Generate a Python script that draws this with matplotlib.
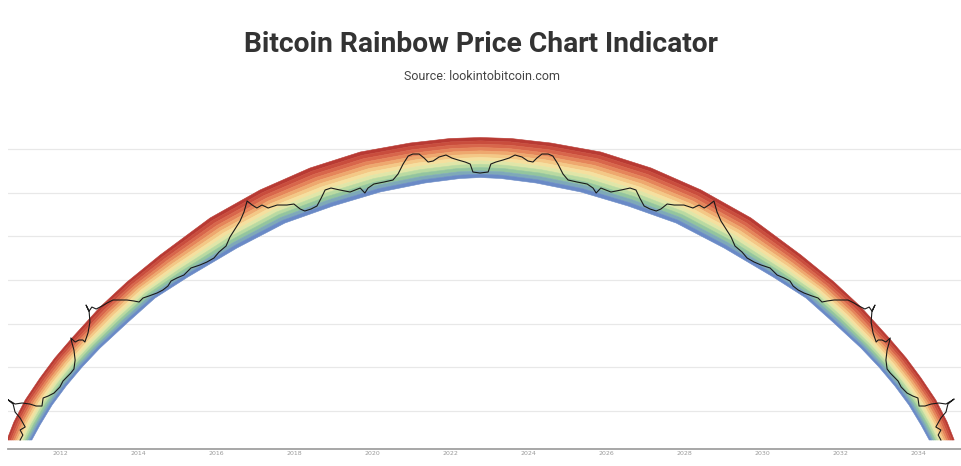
import matplotlib
matplotlib.use("Agg")
import matplotlib.pyplot as plt
import numpy as np

# ---- data (x = year, y = log-price units; gridlines at integers) ----
tick_years = [2012, 2014, 2016, 2018, 2020, 2022, 2024, 2026, 2028, 2030, 2032, 2034]
tick_labels = [str(t) for t in tick_years]

# outer (red) edge and inner (blue) edge of the rainbow arch
outer_x = [2010.62, 2010.80, 2011.09, 2011.47, 2011.85, 2012.29, 2013.01, 2013.70, 2014.55, 2015.83,
           2017.11, 2018.39, 2019.68, 2020.96, 2021.98, 2022.76, 2023.55, 2024.57, 2025.85, 2027.14,
           2028.42, 2029.70, 2030.98, 2031.83, 2032.52, 2033.24, 2033.68, 2034.06, 2034.44, 2034.73, 2034.91]
outer_y = [-0.664, -0.252, 0.252, 0.756, 1.214, 1.672, 2.381, 2.954, 3.572, 4.420,
           5.061, 5.564, 5.931, 6.137, 6.240, 6.263, 6.240, 6.137, 5.931, 5.564,
           5.061, 4.420, 3.572, 2.954, 2.381, 1.672, 1.214, 0.756, 0.252, -0.252, -0.664]
inner_x = [2011.26, 2011.47, 2011.78, 2012.14, 2012.55, 2013.01, 2013.73, 2014.42, 2015.26, 2016.52,
           2017.75, 2018.98, 2020.19, 2021.34, 2022.24, 2022.76, 2023.29, 2024.19, 2025.34, 2026.55,
           2027.78, 2029.01, 2030.27, 2031.11, 2031.80, 2032.52, 2032.98, 2033.39, 2033.75, 2034.06, 2034.27]
inner_y = [-0.664, -0.321, 0.137, 0.572, 1.008, 1.443, 2.038, 2.588, 3.068, 3.733,
           4.305, 4.694, 5.015, 5.221, 5.324, 5.347, 5.324, 5.221, 5.015, 4.694,
           4.305, 3.733, 3.068, 2.588, 2.038, 1.443, 1.008, 0.572, 0.137, -0.321, -0.664]

band_colors = ['#b83a33', '#c94d3d', '#d8664b', '#e5855a', '#eea86e', '#f4c886',
               '#f5e09f', '#e0e6a8', '#b9daa1', '#93c59e', '#7ea9b8', '#6a8ac6']

# price line (left half, then its mirrored right half)
price_x = [2010.96, 2011.03, 2010.96, 2011.09, 2010.96, 2010.83, 2010.78, 2010.62, 2010.83, 2011.01,
           2011.21, 2011.37, 2011.52, 2011.55, 2011.68, 2011.83, 2011.98, 2012.06, 2012.16, 2012.26,
           2012.34, 2012.37, 2012.34, 2012.29, 2012.26, 2012.37, 2012.47, 2012.57, 2012.62, 2012.70,
           2012.75, 2012.73, 2012.65, 2012.73, 2012.80, 2012.91, 2013.06, 2013.19, 2013.34, 2013.52,
           2013.70, 2013.88, 2014.01, 2014.11, 2014.26, 2014.47, 2014.62, 2014.75, 2014.83, 2014.98,
           2015.16, 2015.34, 2015.57, 2015.75, 2015.93, 2016.06, 2016.24, 2016.34, 2016.47, 2016.60,
           2016.70, 2016.78, 2016.91, 2017.03, 2017.16, 2017.32, 2017.55, 2017.80, 2017.98, 2018.14,
           2018.26, 2018.42, 2018.57, 2018.68, 2018.78, 2018.93, 2019.16, 2019.42, 2019.68, 2019.80,
           2019.88, 2020.03, 2020.29, 2020.52, 2020.65, 2020.78, 2020.91, 2021.03, 2021.19, 2021.32,
           2021.42, 2021.55, 2021.70, 2021.88, 2022.03, 2022.19, 2022.37, 2022.50, 2022.57, 2022.75,
           2022.96, 2023.03, 2023.16, 2023.34, 2023.50, 2023.65, 2023.83, 2023.98, 2024.11, 2024.21,
           2024.34, 2024.50, 2024.62, 2024.75, 2024.88, 2025.01, 2025.24, 2025.50, 2025.65, 2025.73,
           2025.85, 2026.11, 2026.37, 2026.60, 2026.75, 2026.85, 2026.96, 2027.11, 2027.27, 2027.39,
           2027.55, 2027.73, 2027.98, 2028.21, 2028.37, 2028.50, 2028.62, 2028.75, 2028.83, 2028.93,
           2029.06, 2029.19, 2029.29, 2029.47, 2029.60, 2029.78, 2029.96, 2030.19, 2030.37, 2030.55,
           2030.70, 2030.78, 2030.91, 2031.06, 2031.27, 2031.42, 2031.52, 2031.65, 2031.83, 2032.01,
           2032.19, 2032.34, 2032.47, 2032.62, 2032.73, 2032.80, 2032.88, 2032.80, 2032.78, 2032.83,
           2032.91, 2032.96, 2033.06, 2033.16, 2033.27, 2033.24, 2033.19, 2033.16, 2033.19, 2033.27,
           2033.37, 2033.47, 2033.55, 2033.70, 2033.85, 2033.98, 2034.01, 2034.16, 2034.32, 2034.52,
           2034.70, 2034.91, 2034.75, 2034.70, 2034.57, 2034.44, 2034.57, 2034.50, 2034.57]
price_y = [-0.664, -0.550, -0.435, -0.366, -0.160, -0.023, 0.160, 0.275, 0.160, 0.183,
           0.160, 0.114, 0.114, 0.298, 0.343, 0.412, 0.550, 0.687, 0.779, 0.870,
           0.962, 1.168, 1.397, 1.557, 1.672, 1.580, 1.626, 1.626, 1.580, 1.786,
           2.038, 2.267, 2.427, 2.290, 2.381, 2.336, 2.404, 2.473, 2.542, 2.542,
           2.542, 2.519, 2.496, 2.588, 2.633, 2.702, 2.771, 2.862, 2.977, 3.046,
           3.114, 3.275, 3.343, 3.412, 3.504, 3.641, 3.778, 3.984, 4.168, 4.351,
           4.557, 4.809, 4.717, 4.649, 4.717, 4.649, 4.717, 4.717, 4.740, 4.626,
           4.580, 4.626, 4.694, 4.877, 5.061, 5.106, 5.061, 5.015, 5.106, 4.992,
           5.106, 5.198, 5.244, 5.290, 5.427, 5.656, 5.839, 5.885, 5.885, 5.793,
           5.702, 5.725, 5.816, 5.862, 5.793, 5.748, 5.702, 5.656, 5.473, 5.450,
           5.473, 5.656, 5.702, 5.748, 5.793, 5.862, 5.816, 5.725, 5.702, 5.793,
           5.885, 5.885, 5.839, 5.656, 5.427, 5.290, 5.244, 5.198, 5.106, 4.992,
           5.106, 5.015, 5.061, 5.106, 5.061, 4.877, 4.694, 4.626, 4.580, 4.626,
           4.740, 4.717, 4.717, 4.649, 4.717, 4.649, 4.717, 4.809, 4.557, 4.351,
           4.168, 3.984, 3.778, 3.641, 3.504, 3.412, 3.343, 3.275, 3.114, 3.046,
           2.977, 2.862, 2.771, 2.702, 2.633, 2.588, 2.496, 2.519, 2.542, 2.542,
           2.542, 2.473, 2.404, 2.336, 2.381, 2.290, 2.427, 2.267, 2.038, 1.786,
           1.580, 1.626, 1.626, 1.580, 1.672, 1.557, 1.397, 1.168, 0.962, 0.870,
           0.779, 0.687, 0.550, 0.412, 0.343, 0.298, 0.114, 0.114, 0.160, 0.183,
           0.160, 0.275, 0.160, -0.023, -0.160, -0.366, -0.435, -0.550, -0.664]

gridlines = [0, 1, 2, 3, 4, 5, 6]

title = "Bitcoin Rainbow Price Chart Indicator"
subtitle = "Source: lookintobitcoin.com"

# ---- drawing ----
W, H = 961, 466
fig = plt.figure(figsize=(W / 100, H / 100), dpi=100)
ax = fig.add_axes([8 / W, 17 / H, (W - 8) / W, 319 / H])
ax.set_xlim(2010.649, 2035.085)
ax.set_ylim(-0.870, 6.435)

for g in gridlines:
    ax.axhline(g, color='#e8e8e8', lw=0.9, zorder=0)

ox, oy = np.array(outer_x), np.array(outer_y)
ix, iy = np.array(inner_x), np.array(inner_y)
n = len(band_colors)
for k, c in enumerate(band_colors):
    f0, f1 = k / n, (k + 1) / n
    x0 = ox + f0 * (ix - ox)
    y0 = oy + f0 * (iy - oy)
    x1 = ox + f1 * (ix - ox)
    y1 = oy + f1 * (iy - oy)
    ax.fill(np.concatenate([x0, x1[::-1]]), np.concatenate([y0, y1[::-1]]),
            color=c, lw=0.4, ec=c, zorder=2)

ax.plot(price_x, price_y, color='#1a1a1a', lw=0.8, zorder=3)

for s in ['top', 'left', 'right']:
    ax.spines[s].set_visible(False)
ax.spines['bottom'].set_color('#a0a0a0')
ax.spines['bottom'].set_linewidth(1.3)
ax.set_yticks([])
ax.set_xticks(tick_years)
ax.set_xticklabels(tick_labels, fontsize=4.5, color='#9a9a9a')
ax.tick_params(axis='x', length=0, pad=1.5)

fig.text(0.5005, 1 - 44 / H, title, ha='center', va='center', fontsize=20.3,
         fontweight='bold', family='Roboto', color='#333333')
fig.text(0.5015, 1 - 77 / H, subtitle, ha='center', va='center', fontsize=9,
         family='Roboto', color='#444444')

fig.savefig('out.png', dpi=100)
